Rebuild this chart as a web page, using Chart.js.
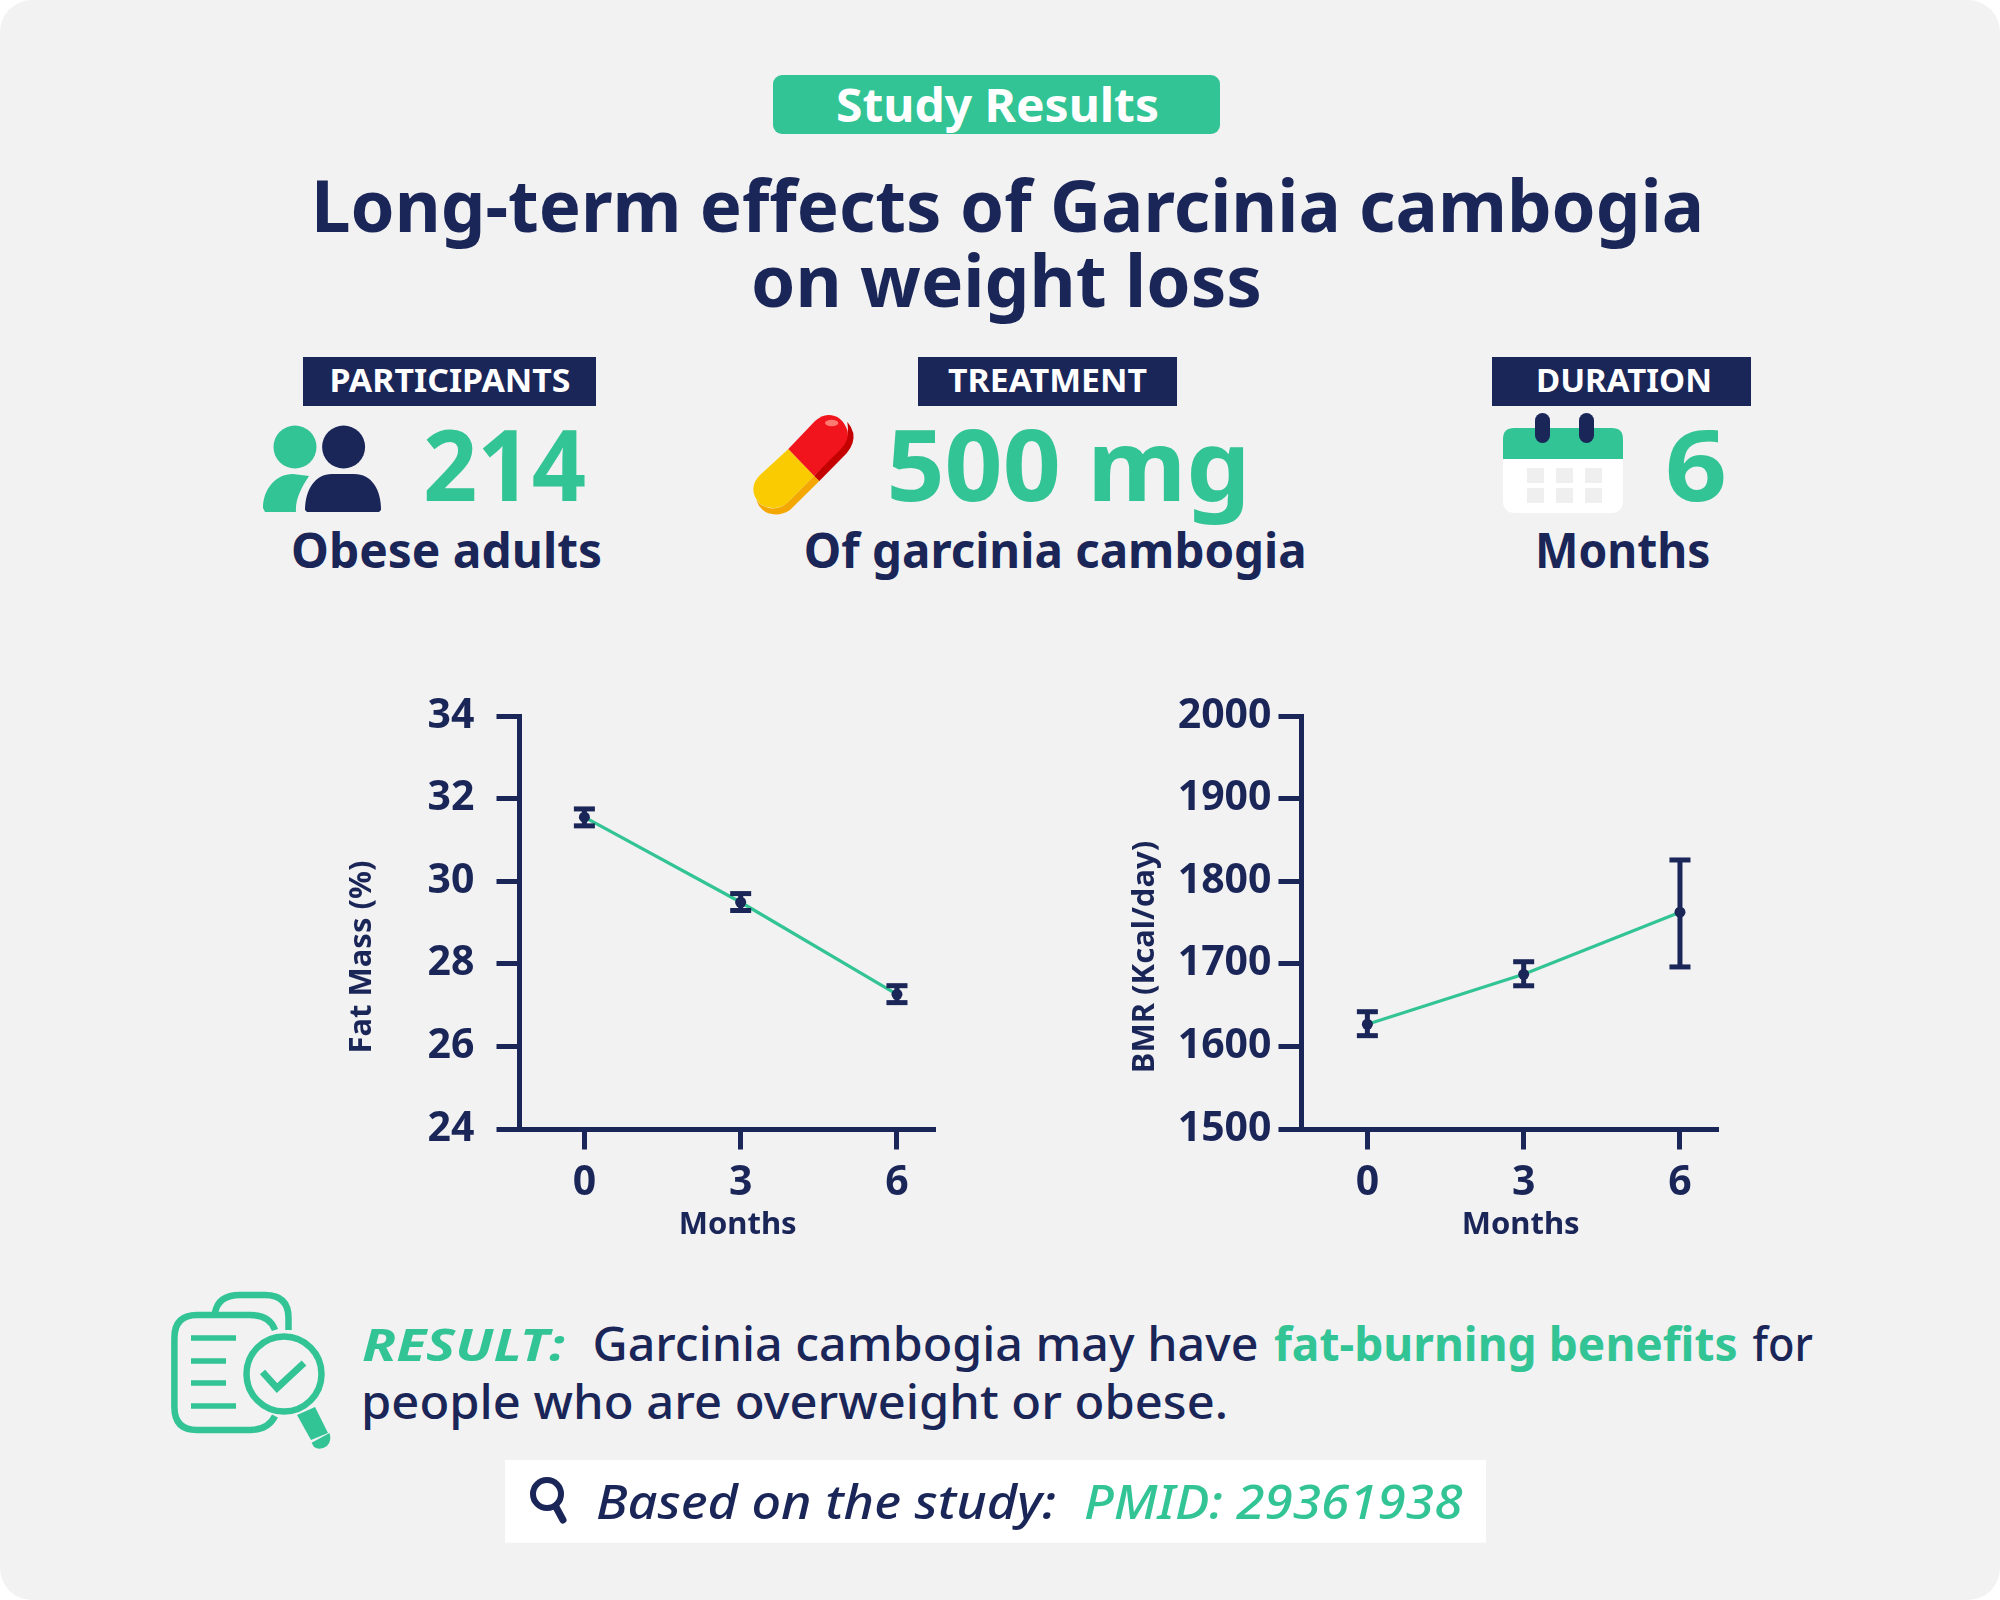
<!DOCTYPE html>
<html><head><meta charset="utf-8">
<script src="https://cdn.jsdelivr.net/npm/chart.js@4"></script>
<style>
html,body{margin:0;padding:0;background:#fff;width:2000px;height:1600px;overflow:hidden}
#panel{position:absolute;left:0;top:0;width:2000px;height:1600px;background:#f2f2f2;border-radius:32px}
svg{position:absolute;left:0;top:0}
canvas{position:absolute}
text{font-family:"Noto Sans",sans-serif}
.b{font-weight:700}.m{font-weight:500}.n{fill:#1a2558}.g{fill:#33c495}.w{fill:#fff}.i{font-style:italic}
</style></head><body>
<div id="panel"></div>
<svg width="2000" height="1600" viewBox="0 0 2000 1600" xmlns="http://www.w3.org/2000/svg">
<rect x="773" y="75" width="447" height="59" rx="9" fill="#33c495"/>
<text class="b w" x="836" y="121.7" font-size="47" textLength="323" lengthAdjust="spacingAndGlyphs">Study Results</text>
<text class="b n" x="311" y="232.2" font-size="71" textLength="1393" lengthAdjust="spacingAndGlyphs">Long-term effects of Garcinia cambogia</text>
<text class="b n" x="751" y="307.2" font-size="71" textLength="511" lengthAdjust="spacingAndGlyphs">on weight loss</text>

<rect x="303" y="357" width="293" height="49" fill="#1a2558"/>
<rect x="918" y="357" width="259" height="49" fill="#1a2558"/>
<rect x="1492" y="357" width="259" height="49" fill="#1a2558"/>
<text class="b w" x="329.5" y="391.7" font-size="32" textLength="241" lengthAdjust="spacingAndGlyphs">PARTICIPANTS</text>
<text class="b w" x="948" y="391.7" font-size="32" textLength="199" lengthAdjust="spacingAndGlyphs">TREATMENT</text>
<text class="b w" x="1536" y="391.7" font-size="32" textLength="176" lengthAdjust="spacingAndGlyphs">DURATION</text>

<circle cx="295" cy="447" r="21.5" fill="#33c495"/>
<circle cx="343.6" cy="447" r="21.5" fill="#1a2558"/>
<path d="M263 508C263 490 275 474 293 474L309 476C301 488 295 500 296 512L265 512Z" fill="#33c495"/>
<path d="M305 510C305 490 315 474 332 474L354 474C372 474 381 490 381 510L379 512L307 512Z" fill="#1a2558"/>
<text class="b g" x="423" y="501" font-size="98" textLength="163" lengthAdjust="spacingAndGlyphs">214</text>
<text class="b n" x="291" y="568" font-size="48" textLength="311" lengthAdjust="spacingAndGlyphs">Obese adults</text>

<svg x="740" y="405" width="130" height="120" viewBox="0 0 390 360">
<path d="M238 228L150 315Q120 335 85 325Q60 315 48 285Q70 312 105 310Q130 307 150 285L222 212Z" fill="#f3a700"/>
<path d="M145 132L60 210Q30 240 45 275Q65 315 110 308Q130 305 145 290L222 212Z" fill="#f9cb00"/>
<path d="M222 212L238 228L320 145Q345 115 340 85Q335 65 322 50Q330 95 305 125Z" fill="#c40000"/>
<path d="M145 132L222 212L300 135Q330 105 322 75Q305 30 265 30Q245 30 225 48Z" fill="#f1141c"/>
<ellipse cx="275" cy="54" rx="20" ry="10" fill="#ff7a70"/>
</svg>
<text class="b g" x="886.5" y="501" font-size="98" textLength="364" lengthAdjust="spacingAndGlyphs">500 mg</text>
<text class="b n" x="803.7" y="568" font-size="48" textLength="503" lengthAdjust="spacingAndGlyphs">Of garcinia cambogia</text>

<rect x="1503" y="428" width="120" height="85" rx="11" fill="#fff"/>
<path d="M1503 459V439Q1503 428 1514 428H1612Q1623 428 1623 439V459Z" fill="#33c495"/>
<rect x="1535" y="413" width="15" height="30" rx="7.5" fill="#1a2558"/>
<rect x="1579" y="413" width="15" height="30" rx="7.5" fill="#1a2558"/>
<g fill="#efefef"><rect x="1527" y="468" width="17" height="15"/><rect x="1556" y="468" width="17" height="15"/><rect x="1585" y="468" width="17" height="15"/><rect x="1527" y="488" width="17" height="15"/><rect x="1556" y="488" width="17" height="15"/><rect x="1585" y="488" width="17" height="15"/></g>
<text class="b g" x="1665" y="501" font-size="98" textLength="62" lengthAdjust="spacingAndGlyphs">6</text>
<text class="b n" x="1535" y="568" font-size="48" textLength="175.5" lengthAdjust="spacingAndGlyphs">Months</text>

<g fill="none" stroke="#33c495" stroke-width="6.5">
<path d="M275 1330Q270 1315 250 1315L197 1315Q174.4 1315 174.4 1338L174.4 1407Q174.4 1430 197 1430L250 1430Q268 1430 275 1416"/>
<path d="M215 1313Q218 1295 240 1295L265 1295Q288.5 1295 288.5 1318L288.5 1330"/>
<circle cx="284" cy="1374" r="37.5"/>
<path d="M262.5 1372L277 1388L304 1363" stroke-width="7"/>
<path d="M191 1338H236M191 1361H226M191 1383H226M191 1406H236" stroke-width="5.5"/>
</g>
<path d="M297 1415L315 1407L328 1433L311 1440Z" fill="#33c495"/>
<path d="M311.6 1442.7L329.5 1433Q332 1441 327 1446Q320 1451 314 1447Z" fill="#33c495"/>

<text class="b g i" x="362" y="1360.5" font-size="45" textLength="203" lengthAdjust="spacingAndGlyphs">RESULT:</text>
<text class="n m" x="592.5" y="1361" font-size="47" textLength="666" lengthAdjust="spacingAndGlyphs">Garcinia cambogia may have</text>
<text class="b g" x="1274" y="1361" font-size="47" textLength="463.6" lengthAdjust="spacingAndGlyphs">fat-burning benefits</text>
<text class="n m" x="1752.6" y="1361" font-size="47" textLength="60.4" lengthAdjust="spacingAndGlyphs">for</text>
<text class="n m" x="361" y="1419" font-size="47" textLength="867" lengthAdjust="spacingAndGlyphs">people who are overweight or obese.</text>

<rect x="505" y="1460" width="981" height="82.7" fill="#fff"/>
<circle cx="547" cy="1494" r="14" fill="none" stroke="#1a2558" stroke-width="6"/>
<path d="M556 1507L563 1520" stroke="#1a2558" stroke-width="7" stroke-linecap="round"/>
<text class="n m i" x="596" y="1519" font-size="47" textLength="460" lengthAdjust="spacingAndGlyphs">Based on the study:</text>
<text class="g m i" x="1084" y="1519" font-size="47" textLength="378.4" lengthAdjust="spacingAndGlyphs">PMID: 29361938</text>
</svg>
<canvas id="c1" width="700" height="580" style="left:300px;top:680px"></canvas>
<canvas id="c2" width="700" height="580" style="left:1100px;top:680px"></canvas>
<script>
const NAVY = '#1a2558', GREEN = '#33c495';
const FONT = '"Noto Sans"';
const months = [0, 3, 6];
const xAxisTitle = 'Months';

const fatMassTitle = 'Fat Mass (%)';
const fatMassTicks = [24, 26, 28, 30, 32, 34];
const fatMass = [31.55, 29.49, 27.26];
const fatMassLow = [31.34, 29.29, 27.06];
const fatMassHigh = [31.75, 29.7, 27.47];

const bmrTitle = 'BMR (Kcal/day)';
const bmrTicks = [1500, 1600, 1700, 1800, 1900, 2000];
const bmr = [1626.8, 1687.3, 1762.5];
const bmrLow = [1613, 1673.4, 1696.2];
const bmrHigh = [1642, 1702.5, 1825.7];

const titles = {
  id: 'offCenterTitles',
  afterDraw(chart, args, o) {
    const {ctx, scales: {x, y}} = chart;
    ctx.save();
    ctx.fillStyle = NAVY;
    ctx.textAlign = 'center';
    ctx.textBaseline = 'alphabetic';
    ctx.font = '700 31px ' + FONT;
    ctx.fillText(o.xText, x.getPixelForValue(3) - 3, y.bottom + 105);
    ctx.translate(o.yBase, y.top + 241);
    ctx.rotate(-Math.PI / 2);
    ctx.fillText(o.yText, 0, 0);
    ctx.restore();
  }
};

function makeChart(id, cfg) {
  const xy = a => months.map((m, i) => ({x: m, y: a[i]}));
  const bars = months.map((m, i) => ({
    data: [{x: m, y: cfg.low[i]}, {x: m, y: cfg.high[i]}],
    borderColor: NAVY, borderWidth: 5, pointStyle: 'line', pointRadius: 10.5,
    pointBorderColor: NAVY, pointBorderWidth: 5, clip: false
  }));
  new Chart(document.getElementById(id), {
    type: 'line',
    data: {datasets: [
      {data: xy(cfg.mean), showLine: false, pointRadius: 5.5, pointBackgroundColor: NAVY, pointBorderColor: NAVY, pointBorderWidth: 0, clip: false},
      ...bars,
      {data: xy(cfg.mean), borderColor: GREEN, borderWidth: 3.2, pointRadius: 0, tension: 0, clip: false}
    ]},
    options: {
      responsive: false, animation: false, devicePixelRatio: 1,
      layout: {padding: {left: 0, top: 36, right: cfg.padRight, bottom: 0}},
      plugins: {legend: {display: false}, tooltip: {enabled: false},
        offCenterTitles: {xText: xAxisTitle, yText: cfg.title, yBase: cfg.yBase}},
      scales: {
        x: {
          type: 'linear', min: cfg.xMin, max: 6.73,
          afterBuildTicks: s => { s.ticks = months.map(v => ({value: v})); },
          afterFit: s => { s.height = 131; },
          border: {color: NAVY, width: 5},
          grid: {display: true, drawOnChartArea: false, tickLength: 20.5, tickWidth: 5, tickColor: NAVY},
          ticks: {color: NAVY, font: {family: FONT, weight: '700', size: 41}, padding: 9, maxRotation: 0, callback: v => String(v)}
        },
        y: {
          min: cfg.ticks[0], max: cfg.ticks[5],
          afterBuildTicks: s => { s.ticks = cfg.ticks.map(v => ({value: v})); },
          afterFit: s => { s.width = cfg.yWidth; s.paddingTop = 0; s.paddingBottom = 0; },
          border: {color: NAVY, width: 5},
          grid: {display: true, drawOnChartArea: false, tickLength: 22.5, tickWidth: 5, tickColor: NAVY},
          ticks: {color: NAVY, font: {family: FONT, weight: '700', size: 41}, padding: cfg.yPad, crossAlign: 'center', callback: v => String(v)}
        }
      }
    },
    plugins: [titles]
  });
}
makeChart('c1', {title: fatMassTitle, ticks: fatMassTicks, mean: fatMass, low: fatMassLow, high: fatMassHigh,
  xMin: -1.255, yWidth: 219, padRight: 65, yPad: 22, yBase: 71.4});
makeChart('c2', {title: bmrTitle, ticks: bmrTicks, mean: bmr, low: bmrLow, high: bmrHigh,
  xMin: -1.274, yWidth: 201, padRight: 82, yPad: 7, yBase: 53.6});
</script>
</body></html>
